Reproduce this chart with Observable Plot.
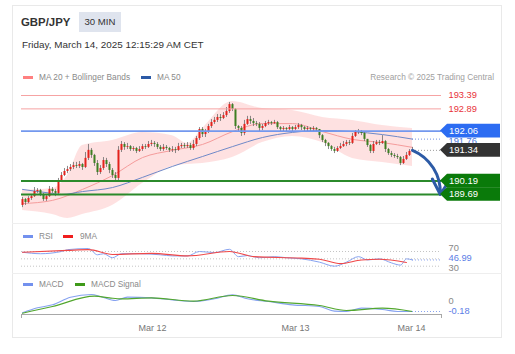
<!DOCTYPE html>
<html><head><meta charset="utf-8">
<script src="https://cdn.jsdelivr.net/npm/d3@7"></script>
<script src="https://cdn.jsdelivr.net/npm/@observablehq/plot@0.6"></script>
<style>
html,body{margin:0;padding:0;background:#fff;width:515px;height:354px;overflow:hidden;font-family:"Liberation Sans",Arial,sans-serif;}
.abs{position:absolute;white-space:nowrap;}
#card{position:absolute;left:12px;top:5px;width:488px;height:331px;border:1px solid #e9e9e9;}
.sep{position:absolute;left:12px;width:490px;height:1px;background:#eeeeee;}
.sw{position:absolute;width:10px;height:3px;}
.lg{position:absolute;font-size:8.3px;line-height:10px;color:#8a8a8a;white-space:nowrap;}
</style></head>
<body>
<div id="card"></div>
<div class="sep" style="top:223px"></div>
<div class="sep" style="top:273px"></div>
<div class="abs" style="left:21px;top:15px;font-size:11.4px;line-height:14px;font-weight:bold;color:#333">GBP/JPY</div>
<div class="abs" style="left:79px;top:12px;width:42px;height:20px;background:#dfe4ee;font-size:9.6px;line-height:20px;text-align:center;color:#333">30 MIN</div>
<div class="abs" style="left:22px;top:39px;font-size:9.9px;line-height:12px;color:#333">Friday, March 14, 2025 12:15:29 AM CET</div>
<div class="sw" style="left:23px;top:76px;background:#ff8080"></div>
<div class="lg" style="left:39px;top:72px">MA 20 + Bollinger Bands</div>
<div class="sw" style="left:141px;top:76px;background:#2c5aa6"></div>
<div class="lg" style="left:157px;top:72px">MA 50</div>
<div class="lg" style="right:21px;top:72px;color:#a0a0a0">Research © 2025 Trading Central</div>
<div class="sw" style="left:23px;top:235px;background:#7391ee"></div>
<div class="lg" style="left:39px;top:231px">RSI</div>
<div class="sw" style="left:63px;top:235px;background:#f01e1e"></div>
<div class="lg" style="left:80px;top:231px">9MA</div>
<div class="sw" style="left:23px;top:283px;background:#7391ee"></div>
<div class="lg" style="left:39px;top:279px">MACD</div>
<div class="sw" style="left:75px;top:283px;background:#3f9a1a"></div>
<div class="lg" style="left:91px;top:279px">MACD Signal</div>
<div id="main" class="abs" style="left:12px;top:85px"></div>
<div id="rsi" class="abs" style="left:12px;top:243px"></div>
<div id="macd" class="abs" style="left:12px;top:290px"></div>
<script>
// ---- price candles (30 min), index 0..130 ----
const firstOpen = 189.28;
const closes = [189.50,189.39,189.54,189.61,189.80,189.84,189.69,189.50,189.61,189.88,
 189.80,189.73,190.18,190.40,190.55,190.62,190.70,190.77,190.74,190.81,
 190.70,191.04,191.34,191.15,190.85,190.51,190.66,190.96,190.81,190.59,
 190.40,190.29,191.34,191.56,191.45,191.48,191.37,191.41,191.30,191.37,
 191.48,191.45,191.56,191.60,191.56,191.45,191.37,191.45,191.41,191.34,
 191.37,191.34,191.48,191.52,191.48,191.52,191.41,191.56,191.78,192.12,
 191.93,192.04,192.23,192.38,192.46,192.57,192.53,192.64,192.79,193.05,
 192.87,192.23,192.16,191.97,192.31,192.49,192.42,192.34,192.31,192.16,
 192.23,192.34,192.38,192.34,192.38,192.19,192.12,192.16,192.12,192.19,
 192.12,192.19,192.27,192.19,192.12,192.16,192.12,192.16,192.12,191.89,
 191.71,191.60,191.48,191.37,191.30,191.41,191.48,191.56,191.63,191.60,
 191.86,192.01,192.04,191.97,191.75,191.52,191.30,191.56,191.63,191.60,
 191.67,191.37,191.22,191.15,191.11,191.07,190.85,191.00,191.15,191.30,
 191.34];
const highs = [189.58,189.54,189.61,189.69,189.95,189.91,189.88,189.73,189.69,189.99,
 189.95,189.88,190.29,190.51,190.66,190.74,190.81,190.89,190.89,190.92,
 190.85,191.26,191.56,191.41,191.19,190.96,190.77,191.07,191.04,190.89,
 190.66,190.51,191.48,191.67,191.63,191.60,191.52,191.48,191.45,191.48,
 191.56,191.56,191.67,191.71,191.67,191.63,191.52,191.56,191.52,191.45,
 191.48,191.45,191.60,191.60,191.60,191.63,191.60,191.71,191.86,192.19,
 192.19,192.12,192.31,192.49,192.57,192.68,192.68,192.75,192.94,193.13,
 193.09,192.90,192.27,192.23,192.46,192.61,192.61,192.53,192.42,192.38,
 192.31,192.42,192.46,192.42,192.46,192.42,192.23,192.23,192.19,192.27,
 192.23,192.27,192.34,192.31,192.23,192.23,192.19,192.23,192.19,192.12,
 191.93,191.75,191.63,191.52,191.45,191.48,191.60,191.67,191.71,191.71,
 191.97,192.08,192.12,192.08,192.01,191.75,191.56,191.67,191.71,191.71,
 191.89,191.71,191.41,191.30,191.22,191.19,191.11,191.11,191.26,191.37,
 191.45];
const lows = [189.20,189.28,189.35,189.47,189.58,189.73,189.61,189.43,189.43,189.58,
 189.73,189.61,189.65,190.14,190.36,190.47,190.55,190.62,190.66,190.66,
 190.59,190.66,190.96,191.04,190.74,190.40,190.44,190.59,190.70,190.47,
 190.29,190.21,190.21,191.26,191.34,191.37,191.30,191.30,191.22,191.26,
 191.30,191.37,191.41,191.48,191.45,191.37,191.30,191.30,191.34,191.26,
 191.26,191.22,191.30,191.41,191.41,191.41,191.34,191.34,191.48,191.71,
 191.82,191.82,191.97,192.16,192.31,192.38,192.42,192.49,192.57,192.72,
 192.79,192.12,192.04,191.86,191.89,192.27,192.31,192.23,192.23,192.04,
 192.08,192.19,192.27,192.27,192.31,192.12,192.04,192.04,192.04,192.08,
 192.04,192.08,192.12,192.08,192.04,192.04,192.04,192.04,192.01,191.78,
 191.63,191.48,191.37,191.30,191.22,191.26,191.37,191.45,191.48,191.52,
 191.56,191.82,191.93,191.89,191.67,191.45,191.22,191.22,191.52,191.52,
 191.56,191.26,191.15,191.07,191.04,191.00,190.77,190.81,190.96,191.11,
 191.26];

// ---- indicators (sampled at candle indices) ----
const ma20Idx = [0,10,20,30,40,50,60,70,80,90,100,110,120,130];
const ma20Val = [189.35,189.47,189.88,190.40,191.07,191.34,191.56,192.04,192.34,192.34,192.04,191.75,191.63,191.45];
const ma50Idx = [0,10,13,20,30,40,50,60,70,80,90,100,110,120,130];
const ma50Val = [189.88,189.73,189.69,189.80,189.95,190.33,190.74,191.11,191.48,191.82,192.01,192.08,192.04,191.93,191.76];
const bbIdx   = [0,10,15,20,30,40,50,55,60,70,80,90,100,110,120,130];
const bbUpper = [189.84,189.91,190.40,191.52,191.71,192.01,191.89,191.60,192.16,193.17,192.90,192.83,192.57,192.46,192.27,192.16];
const bbLower = [189.09,188.94,188.79,188.94,189.28,190.10,190.74,190.81,190.85,191.07,191.63,191.86,191.63,191.04,190.89,190.74];

// ---- key levels ----
const resistances = [193.39, 192.89];
const pivot = [192.06];
const supports = [190.19, 189.69];

// ---- RSI ----
const rsiIdx = [0,6,13,15,22,25,27,30,33,39,46,50,55,59,64,69,72,75,79,84,88,93,99,104,108,112,115,119,123,126,128,130];
const rsiVal = [68,64,70,75,78,61,64,53,64,64,61,58,58,70,67,76,56,59,53,56,53,50,41,30,41,56,47,50,39,33,50,46.99];
const rsiMaIdx = [0,15,22,30,43,55,69,77,93,99,106,113,119,128];
const rsiMaVal = [68,73,75,62,65,58,70,56,52,49,37,47,49,40];
const rsiLevels = [70, 50, 30];

// ---- MACD ----
const macdIdx = [0,5,10,16,23,26,31,35,43,50,57,64,70,75,82,90,99,104,108,113,120,125,130];
const macdVal = [-0.22,-0.07,0.02,0.25,0.33,0.27,0.15,0.25,0.23,0.17,0.12,0.20,0.32,0.20,0.12,0.02,-0.03,-0.17,-0.18,-0.08,-0.12,-0.18,-0.18];
const sigIdx = [0,10,24,29,33,43,57,70,82,99,108,120,130];
const sigVal = [-0.23,-0.03,0.28,0.23,0.20,0.23,0.13,0.30,0.13,0.00,-0.15,-0.08,-0.18];

// ---- time axis ----
const tickIdx = [43.3, 91, 129.7];
const tickLabels = ["Mar 12", "Mar 13", "Mar 14"];

// ---- build tables ----
const candles = closes.map((c, i) => ({i, o: i ? closes[i-1] : firstOpen, c, h: highs[i], l: lows[i]}));
const up = candles.filter(d => d.c > d.o), down = candles.filter(d => d.c < d.o), flat = candles.filter(d => d.c === d.o);
const ma20 = ma20Idx.map((i,k) => ({i, v: ma20Val[k]}));
const ma50 = ma50Idx.map((i,k) => ({i, v: ma50Val[k]}));
const bands = bbIdx.map((i,k) => ({i, lo: bbLower[k], hi: bbUpper[k]}));
const rsi = rsiIdx.map((i,k) => ({i, v: rsiVal[k]}));
const rsiMa = rsiMaIdx.map((i,k) => ({i, v: rsiMaVal[k]}));
const macd = macdIdx.map((i,k) => ({i, v: macdVal[k]}));
const sig = sigIdx.map((i,k) => ({i, v: sigVal[k]}));

const last = closes.length - 1;
const lastClose = closes[last];
const ma50Last = ma50Val[ma50Val.length - 1];
const rsiLast = rsiVal[rsiVal.length - 1];
const macdLast = macdVal[macdVal.length - 1];

const W = 489;
const xDomain = [-0.33, 139.67];
const xRange = [9, 429];
const font = '"Liberation Sans", Arial, sans-serif';
const xs = () => ({type: "linear", domain: xDomain, range: xRange, axis: null});
const X0 = () => xDomain[0], X1 = () => xDomain[1], XL = () => last;
const style = {fontFamily: font, fontSize: "9.3px", overflow: "visible", background: "transparent"};

const main = Plot.plot({
  width: W, height: 135, margin: 0, style,
  x: xs(),
  y: {type: "linear", domain: [189.69, 193.39], range: [109, 10], axis: null},
  marks: [
    Plot.areaY(bands, {x: "i", y1: "lo", y2: "hi", fill: "#fdd7d7", fillOpacity: 0.75, curve: "monotone-x"}),
    Plot.line(ma20, {x: "i", y: "v", stroke: "#f59c9c", strokeWidth: 1, curve: "monotone-x"}),
    Plot.line(ma50, {x: "i", y: "v", stroke: "#6f89c8", strokeWidth: 1, curve: "monotone-x"}),
    Plot.ruleX(candles, {x: "i", y1: "l", y2: "h", stroke: "#6b6b6b", strokeWidth: 0.8}),
    Plot.ruleX(up, {x: "i", y1: "o", y2: "c", stroke: "#e3221c", strokeWidth: 2}),
    Plot.ruleX(down, {x: "i", y1: "o", y2: "c", stroke: "#3d7f22", strokeWidth: 2}),
    Plot.ruleX(flat, {x: "i", y1: d => d.c - 0.015, y2: d => d.c + 0.015, stroke: "#555", strokeWidth: 2}),
    Plot.ruleY(resistances, {y: d => d, x1: X0, x2: X1, stroke: "#f6a3a3", strokeWidth: 1}),
    Plot.ruleY(pivot, {y: d => d, x1: X0, x2: X1, stroke: "#7398ee", strokeWidth: 1.6}),
    Plot.ruleY(supports, {y: d => d, x1: X0, x2: X1, stroke: "#2b8a2b", strokeWidth: 2}),
    Plot.ruleY([ma50Last], {y: d => d, x1: XL, x2: X1, stroke: "#6f8fe0", strokeDasharray: "1,2"}),
    Plot.ruleY([lastClose], {y: d => d, x1: () => last + 1, x2: X1, stroke: "#999", strokeDasharray: "1,2"}),
    Plot.text(resistances, {x: X1, y: d => d, text: d => d.toFixed(2), dx: 7, textAnchor: "start", fill: "#e8333a"}),
    Plot.text([ma50Last], {x: X1, y: d => d, text: d => d.toFixed(2), dx: 7, dy: 1.5, textAnchor: "start", fill: "#4a76dc"}),
    Plot.arrow([0], {x1: XL, y1: () => lastClose, x2: () => xDomain[1] - 0.4, y2: () => supports[1], bend: 35, stroke: "#2d5ba6", strokeWidth: 3, headLength: 9})
  ]
});
document.getElementById("main").append(main);

function badge(svg, yScale, value, color) {
  const y = yScale.apply(value);
  const g = d3.select(svg).append("g");
  g.append("path")
    .attr("d", `M428,${y} L435,${y - 6.8} L488,${y - 6.8} L488,${y + 6.8} L435,${y + 6.8} Z`)
    .attr("fill", color);
  g.append("text").attr("x", 437).attr("y", y).attr("dy", "0.36em")
    .attr("text-anchor", "start")
    .attr("fill", "#fff").attr("font-size", "9.5px").attr("font-family", font)
    .text(value.toFixed(2));
}
const ym = main.scale("y");
badge(main, ym, pivot[0], "#2c6cf2");
badge(main, ym, lastClose, "#333333");
badge(main, ym, supports[0], "#0a7a0a");
badge(main, ym, supports[1], "#0a7a0a");

const rsiPlot = Plot.plot({
  width: W, height: 30, margin: 0, style,
  x: xs(),
  y: {type: "linear", domain: [30, 70], range: [22.7, 8], axis: null},
  marks: [
    Plot.ruleY(rsiLevels, {y: d => d, x1: X0, x2: X1, stroke: "#c4c4c4", strokeDasharray: "1,2"}),
    Plot.line(rsi, {x: "i", y: "v", stroke: "#86a2f0", strokeWidth: 1, curve: "monotone-x"}),
    Plot.line(rsiMa, {x: "i", y: "v", stroke: "#f04848", strokeWidth: 1.1, curve: "monotone-x"}),
    Plot.ruleY([rsiLast], {y: d => d, x1: XL, x2: X1, stroke: "#86a2f0", strokeDasharray: "1,2"}),
    Plot.text([rsiLevels[0]], {x: X1, y: d => d, text: d => String(d), dx: 7, dy: -3.5, textAnchor: "start", fill: "#888"}),
    Plot.text([rsiLevels[2]], {x: X1, y: d => d, text: d => String(d), dx: 7, dy: 1.5, textAnchor: "start", fill: "#888"}),
    Plot.text([rsiLast], {x: X1, y: d => d, text: d => d.toFixed(2), dx: 7, dy: -1.5, textAnchor: "start", fill: "#5b7de6"})
  ]
});
document.getElementById("rsi").append(rsiPlot);

const macdPlot = Plot.plot({
  width: W, height: 45, marginLeft: 9, marginRight: 60, marginTop: 0, marginBottom: 21, style,
  x: {type: "linear", domain: xDomain, range: xRange, label: null},
  y: {type: "linear", domain: [-0.3, 0.36], range: [25, 3], axis: null},
  marks: [
    Plot.frame({anchor: "bottom", stroke: "#a8a8a8"}),
    Plot.axisX({ticks: xDomain, tickSize: 4, tickFormat: () => "", stroke: "#a8a8a8", label: null}),
    Plot.axisX({ticks: tickIdx, tickSize: 0, tickPadding: 10, tickFormat: d => tickLabels[tickIdx.indexOf(d)], fill: "#777", fontSize: 9, label: null}),
    Plot.line(macd, {x: "i", y: "v", stroke: "#86a2f0", strokeWidth: 1.1, curve: "monotone-x"}),
    Plot.line(sig, {x: "i", y: "v", stroke: "#52a72e", strokeWidth: 1.1, curve: "monotone-x"}),
    Plot.ruleY([macdLast], {y: d => d, x1: XL, x2: X1, stroke: "#86a2f0", strokeDasharray: "1,2"}),
    Plot.text([0], {x: X1, y: d => d, text: d => String(d), dx: 7, dy: -4.5, textAnchor: "start", fill: "#888"}),
    Plot.text([macdLast], {x: X1, y: d => d, text: d => d.toFixed(2), dx: 7, dy: -0.5, textAnchor: "start", fill: "#5b7de6"})
  ]
});
document.getElementById("macd").append(macdPlot);
</script>
</body></html>
